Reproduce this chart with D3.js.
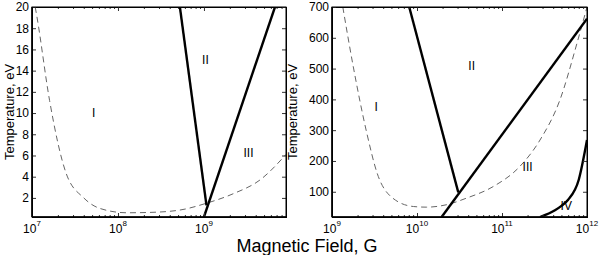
<!DOCTYPE html>
<html>
<head>
<meta charset="utf-8">
<script src="https://d3js.org/d3.v7.min.js"></script>
<style>
  body { margin: 0; background: #fff; }
  text { font-family: "Liberation Sans", Arial, sans-serif; fill: #000; }
</style>
</head>
<body>
<svg width="600" height="255"></svg>
<script>
// left panel data (B in gauss, T in eV)
var leftDashB = [1.09e7, 1.14e7, 1.6e7, 2.5e7, 4e7, 6.2e7, 1.26e8, 2.3e8, 5.2e8, 1.07e9, 2.2e9, 4.5e9, 9e9];
var leftDashT = [20, 19.1, 11.2, 4.3, 2.0, 1.0, 0.6, 0.63, 0.85, 1.5, 2.4, 3.7, 6.1];
var leftLine1B = [5.25e8, 1.07e9];
var leftLine1T = [20, 1.3];
var leftLine2B = [1.0e9, 6.7e9];
var leftLine2T = [0.2, 20];
var leftYTicks = [2, 4, 6, 8, 10, 12, 14, 16, 18, 20];
var leftXExp = [7, 8, 9];

// right panel data
var rightDashB = [1.34e9, 1.78e9, 2.57e9, 3.4e9, 5.2e9, 9.1e9, 1.29e10, 2.24e10, 3.8e10, 7.9e10, 1.62e11, 2.8e11, 4.8e11, 7.6e11, 1e12];
var rightDashT = [700, 506, 290, 160, 79, 52, 50, 58, 79, 117, 182, 268, 398, 581, 700];
var rightLine1B = [8.1e9, 3.06e10];
var rightLine1T = [700, 98];
var rightLine2B = [1.95e10, 1e12];
var rightLine2T = [18, 662];
var rightCurveB = [2.8e11, 4.2e11, 5e11, 6e11, 8e11, 1e12];
var rightCurveT = [18, 40, 54, 74, 139, 268];
var rightYTicks = [100, 200, 300, 400, 500, 600, 700];
var rightXExp = [9, 10, 11, 12];

var svg = d3.select('svg');

function panel(id, x0, x1, xdom, ydom, yTicks, xExp, dash, solids, labels, ylabX) {
  var top = 7, bottom = 217;
  var x = d3.scaleLog().domain(xdom).range([x0, x1]);
  var y = d3.scaleLinear().domain(ydom).range([bottom, top]);

  svg.append('clipPath').attr('id', id)
    .append('rect').attr('x', x0).attr('y', top).attr('width', x1 - x0).attr('height', bottom - top);

  var g = svg.append('g').attr('clip-path', 'url(#' + id + ')');
  var line = d3.line().x(d => x(d[0])).y(d => y(d[1])).curve(d3.curveMonotoneX);

  g.append('path')
    .datum(dash[0].map((b, i) => [b, dash[1][i]]))
    .attr('d', line)
    .attr('fill', 'none').attr('stroke', '#666').attr('stroke-width', 1)
    .attr('stroke-dasharray', '6,4');

  solids.forEach(function(s) {
    g.append('path')
      .datum(s[0].map((b, i) => [b, s[1][i]]))
      .attr('d', line)
      .attr('fill', 'none').attr('stroke', '#000').attr('stroke-width', 2.4);
  });

  // minor log ticks between the decades
  var minor = [];
  for (var e = Math.floor(Math.log10(xdom[0])); e < Math.ceil(Math.log10(xdom[1])); e++) {
    for (var k = 2; k <= 9; k++) {
      var v = k * Math.pow(10, e);
      if (v > xdom[0] && v < xdom[1]) minor.push(v);
    }
  }
  var major = xExp.map(e => Math.pow(10, e));

  // ticks point inward on all four sides
  svg.append('g').attr('transform', 'translate(0,' + bottom + ')')
    .call(d3.axisBottom(x).tickValues(minor).tickSize(-2).tickFormat(''));
  svg.append('g').attr('transform', 'translate(0,' + bottom + ')')
    .call(d3.axisBottom(x).tickValues(major).tickSize(-4).tickFormat(''));
  svg.append('g').attr('transform', 'translate(0,' + top + ')')
    .call(d3.axisTop(x).tickValues(minor).tickSize(-2).tickFormat(''));
  svg.append('g').attr('transform', 'translate(0,' + top + ')')
    .call(d3.axisTop(x).tickValues(major).tickSize(-4).tickFormat(''));

  var ya = svg.append('g').attr('transform', 'translate(' + x0 + ',0)')
    .call(d3.axisLeft(y).tickValues(yTicks).tickSize(-4).tickPadding(3));
  ya.selectAll('text').attr('fill', '#000').style('font-size', '12px')
    .style('font-family', '"Liberation Sans", Arial, sans-serif');
  svg.append('g').attr('transform', 'translate(' + x1 + ',0)')
    .call(d3.axisRight(y).tickValues(yTicks).tickSize(-4).tickFormat(''));

  svg.selectAll('.domain').attr('stroke', '#000');
  svg.selectAll('.tick line').attr('stroke', '#333');

  // box, left and bottom edges a bit heavier
  svg.append('rect').attr('x', x0).attr('y', top).attr('width', x1 - x0).attr('height', bottom - top)
    .attr('fill', 'none').attr('stroke', '#000').attr('stroke-width', 1);
  svg.append('line').attr('x1', x0).attr('x2', x0).attr('y1', top).attr('y2', bottom)
    .attr('stroke', '#000').attr('stroke-width', 1.5);
  svg.append('line').attr('x1', x0).attr('x2', x1).attr('y1', bottom).attr('y2', bottom)
    .attr('stroke', '#000').attr('stroke-width', 1.5);

  // x tick labels: 10 with superscript exponent
  xExp.forEach(function(e) {
    var t = svg.append('text').attr('x', x(Math.pow(10, e))).attr('y', 233)
      .attr('text-anchor', 'middle').attr('fill', '#000').style('font-size', '12px');
    t.append('tspan').text('10');
    t.append('tspan').attr('dy', -7).style('font-size', '8px').text(e);
  });

  labels.forEach(function(l) {
    svg.append('text').attr('x', x(l[1])).attr('y', y(l[2]))
      .attr('text-anchor', 'middle').attr('dy', '0.35em').attr('fill', '#000')
      .style('font-size', '12px').text(l[0]);
  });

  svg.append('text')
    .attr('transform', 'translate(' + ylabX + ',' + ((top + bottom) / 2) + ') rotate(-90)')
    .attr('text-anchor', 'middle').attr('fill', '#000').style('font-size', '13px')
    .text('Temperature, eV');
}

var leftLabels = [['I', 5.2e7, 10], ['II', 1.04e9, 15], ['III', 3.3e9, 6.3]];
var rightLabels = [['I', 3.3e9, 375], ['II', 4.4e10, 510], ['III', 2.0e11, 180], ['IV', 5.7e11, 55]];

panel('clipL', 32, 286, [1e7, 9e9], [0.2, 20], leftYTicks, leftXExp,
  [leftDashB, leftDashT],
  [[leftLine1B, leftLine1T], [leftLine2B, leftLine2T]], leftLabels, 14);

panel('clipR', 332, 587, [1e9, 1e12], [18, 700], rightYTicks, rightXExp,
  [rightDashB, rightDashT],
  [[rightLine1B, rightLine1T], [rightLine2B, rightLine2T], [rightCurveB, rightCurveT]], rightLabels, 297);

svg.append('text').attr('x', 307).attr('y', 252).attr('text-anchor', 'middle').attr('fill', '#000')
  .style('font-size', '18px').text('Magnetic Field, G');
</script>
</body>
</html>
